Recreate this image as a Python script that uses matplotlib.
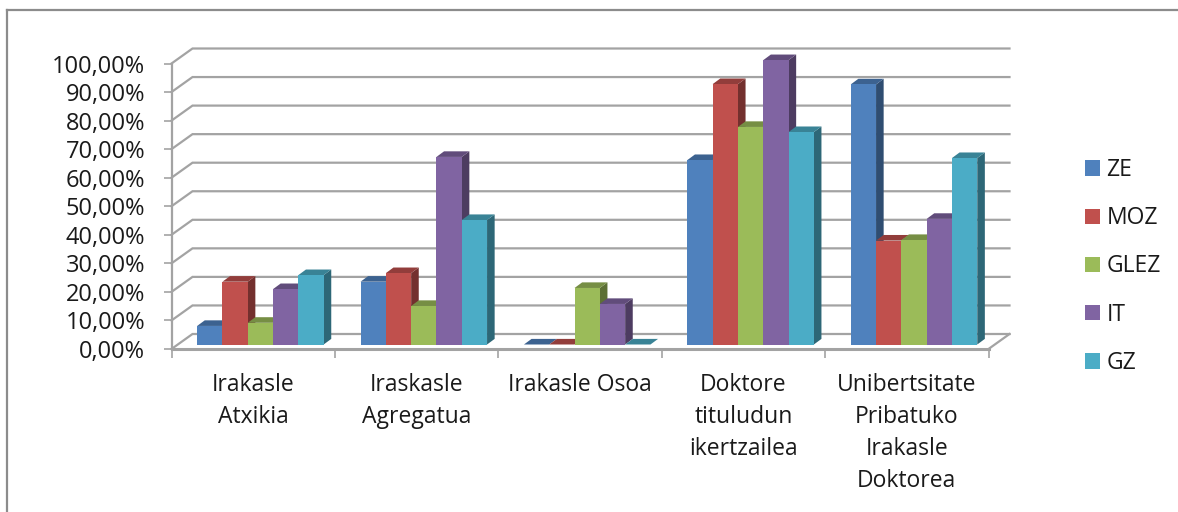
import matplotlib
matplotlib.use("Agg")
import matplotlib.pyplot as plt
from matplotlib.patches import Polygon
from matplotlib.lines import Line2D
from matplotlib.colors import to_rgb

categories = ["Irakasle\nAtxikia", "Iraskasle\nAgregatua", "Irakasle Osoa",
              "Doktore\ntituludun\nikertzailea",
              "Unibertsitate\nPribatuko\nIrakasle\nDoktorea"]
ZE = [6.5, 22.0, 0.0, 64.6, 91.1]
MOZ = [22.0, 25.0, 0.0, 91.2, 36.4]
GLEZ = [7.6, 13.5, 19.8, 76.2, 36.6]
IT = [19.4, 65.7, 14.2, 99.6, 44.0]
GZ = [24.3, 43.6, 0.0, 74.4, 65.3]
series_names = ["ZE", "MOZ", "GLEZ", "IT", "GZ"]
series_values = [ZE, MOZ, GLEZ, IT, GZ]
colors = ["#4F81BD", "#C0504D", "#9BBB59", "#8064A2", "#4BACC6"]
yticks = list(range(0, 101, 10))
ylabels = [f"{v},00%" for v in yticks]

W, H = 1178, 512
plt.rcParams['font.family'] = ['Open Sans', 'DejaVu Sans']
fig = plt.figure(figsize=(W/100, H/100), dpi=100)

L, R, B, T = 171.5, 988.5, 349.0, 63.5
ax = fig.add_axes([L/W, 1-B/H, (R-L)/W, (B-T)/H])
ax.set_xlim(0, 5)
ax.set_ylim(0, 100)
px = 5/(R-L)          # x units per pixel
py = 100/(B-T)        # y units per pixel
wall_dx, wall_dy = 21*px, 15*py
off_dx, off_dy = 6*px, 4.5*py
dep_dx, dep_dy = 7.6*px, 5.6*py
bw = 25.3*px
grid = "#A3A3A3"
lw = 1.6

for s in ax.spines.values():
    s.set_visible(False)
ax.patch.set_alpha(0)

for v in yticks:
    ax.plot([0, wall_dx, 5+wall_dx], [v, v+wall_dy, v+wall_dy], color=grid, lw=lw,
            clip_on=False, zorder=1, solid_joinstyle='miter')
ax.plot([5, 5+wall_dx], [0, wall_dy], color=grid, lw=lw, clip_on=False, zorder=1)
ax.plot([0, 5], [0, 0], color=grid, lw=lw+0.6, clip_on=False, zorder=1)
ax.plot([0, 0], [0, 100], color=grid, lw=lw, clip_on=False, zorder=1)


def shade(c, f):
    return tuple(x*f for x in to_rgb(c))


z = 3
for k, (vals, c) in enumerate(zip(series_values, colors)):
    for i, v in enumerate(vals):
        x0 = i + 0.5 + off_dx - 2.5*bw + k*bw + 1.2*px
        x1 = x0 + bw
        y0 = off_dy
        y1 = y0 + v
        ax.add_patch(Polygon([(x1, y0), (x1+dep_dx, y0+dep_dy), (x1+dep_dx, y1+dep_dy), (x1, y1)],
                             closed=True, fc=shade(c, 0.6), ec='none', clip_on=False, zorder=z))
        ax.add_patch(Polygon([(x0, y1), (x0+dep_dx, y1+dep_dy), (x1+dep_dx, y1+dep_dy), (x1, y1)],
                             closed=True, fc=shade(c, 0.76), ec='none', clip_on=False, zorder=z))
        ax.bar(x0, v, width=bw, bottom=y0, align='edge', color=c, lw=0, zorder=z, clip_on=False)
    z += 1

ax.set_yticks(yticks, ylabels, fontsize=17, color="#1a1a1a")
ax.tick_params(axis='y', length=6, width=1.2, color=grid, pad=13)
ax.set_xticks(range(6), [""]*6)
ax.tick_params(axis='x', which='major', length=6.5, width=1.2, color=grid)
ax.set_xticks([i+0.5 for i in range(5)], categories, minor=True, fontsize=16.5, color="#1a1a1a",
              linespacing=1.45)
ax.tick_params(axis='x', which='minor', length=0, pad=17)

handles = [plt.Rectangle((0, 0), 1, 1, fc=c, ec='none') for c in colors]
fig.legend(handles, series_names, loc='center left', bbox_to_anchor=(1064/W, 1-266.5/H),
           frameon=False, fontsize=16.5, handlelength=0.65, handleheight=0.65,
           handletextpad=0.3, labelspacing=1.06, labelcolor="#1a1a1a")

# chart-area frame
fig.add_artist(Line2D([7/W, 7/W], [0, 1-10/H], color="#8C8C8C", lw=1.6))
fig.add_artist(Line2D([7/W, 1], [1-10/H, 1-10/H], color="#8C8C8C", lw=1.6))

fig.savefig("out.png", dpi=100)
